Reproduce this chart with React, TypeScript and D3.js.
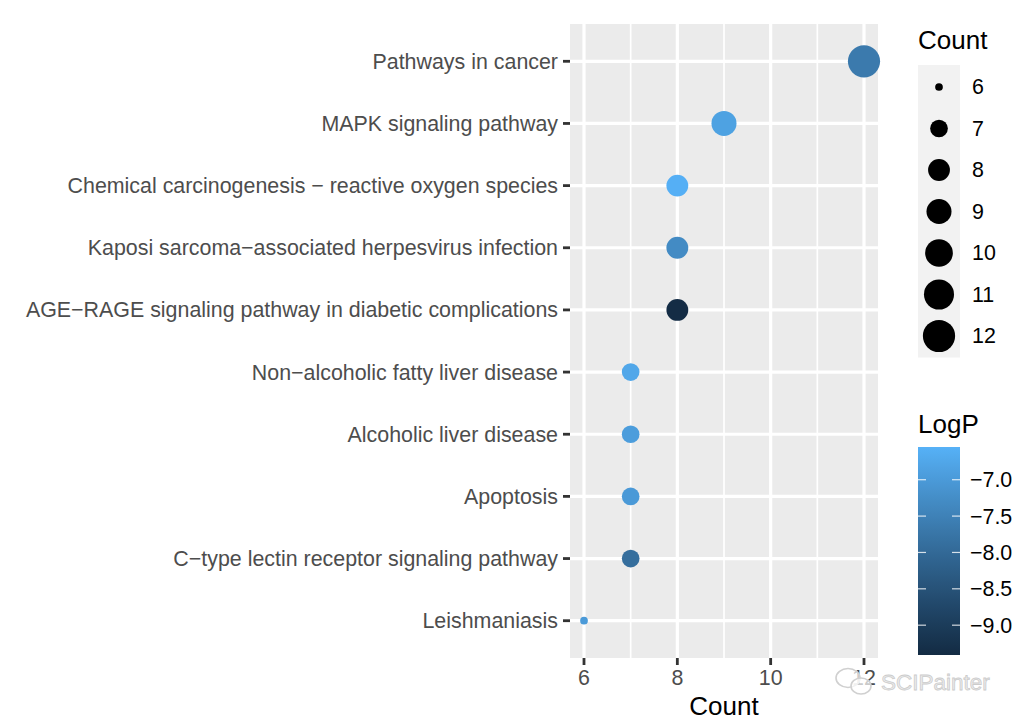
import React from "react";
import * as d3 from "d3";

const pathways = [
  "Pathways in cancer",
  "MAPK signaling pathway",
  "Chemical carcinogenesis \u2212 reactive oxygen species",
  "Kaposi sarcoma\u2212associated herpesvirus infection",
  "AGE\u2212RAGE signaling pathway in diabetic complications",
  "Non\u2212alcoholic fatty liver disease",
  "Alcoholic liver disease",
  "Apoptosis",
  "C\u2212type lectin receptor signaling pathway",
  "Leishmaniasis",
];
const counts = [12, 9, 8, 8, 8, 7, 7, 7, 7, 6];
const logP = [-7.65, -6.85, -6.58, -7.3, -9.38, -6.75, -6.95, -7.02, -7.9, -7.0];
const xTicks = [6, 8, 10, 12];
const xMinor = [7, 9, 11];
const sizeLegend = [6, 7, 8, 9, 10, 11, 12];
const colorTicks = [-7.0, -7.5, -8.0, -8.5, -9.0];

const W = 1027;
const H = 723;
const panel = { left: 570, right: 878, top: 24, bottom: 658 };
const FONT = "'Liberation Sans', Arial, sans-serif";
const FS = 21.4;

export default function App() {
  const x = d3.scaleLinear().domain([5.7, 12.3]).range([panel.left, panel.right]);
  const y = d3
    .scalePoint<string>()
    .domain(pathways)
    .range([panel.top, panel.bottom])
    .padding(0.6);
  const sizeScale = (c: number) => 1 + 5 * Math.sqrt((c - 6) / 6);
  const r = (c: number) => 2.45 * sizeScale(c) + 1.4;
  const cDomain: [number, number] = [-9.41, -6.55];
  const color = d3
    .scaleLinear<string>()
    .domain(cDomain)
    .range(["#132B43", "#56B1F7"])
    .interpolate(d3.interpolateLab);

  const cb = { x: 918, w: 42, top: 447, bottom: 655 };
  const cy = d3.scaleLinear().domain(cDomain).range([cb.bottom, cb.top]);
  const stops = d3.range(0, 21).map((i) => i / 20);

  const sl = { x: 918, w: 42, top: 65, step: 41.5 };

  return (
    <div style={{ position: "absolute", left: 0, top: 0 }}>
      <svg width={W} height={H} style={{ display: "block", background: "#fff" }}>
        <defs>
          <linearGradient id="cbar" x1="0" y1="1" x2="0" y2="0">
            {stops.map((t) => (
              <stop
                key={t}
                offset={`${t * 100}%`}
                stopColor={color(cDomain[0] + t * (cDomain[1] - cDomain[0]))}
              />
            ))}
          </linearGradient>
        </defs>
        <rect
          x={panel.left}
          y={panel.top}
          width={panel.right - panel.left}
          height={panel.bottom - panel.top}
          fill="#EBEBEB"
        />
        {xMinor.map((v) => (
          <line
            key={"mn" + v}
            x1={x(v)}
            x2={x(v)}
            y1={panel.top}
            y2={panel.bottom}
            stroke="#fff"
            strokeWidth={1.7}
          />
        ))}
        {xTicks.map((v) => (
          <line
            key={"mj" + v}
            x1={x(v)}
            x2={x(v)}
            y1={panel.top}
            y2={panel.bottom}
            stroke="#fff"
            strokeWidth={3.2}
          />
        ))}
        {pathways.map((p) => (
          <line
            key={"hg" + p}
            x1={panel.left}
            x2={panel.right}
            y1={y(p)}
            y2={y(p)}
            stroke="#fff"
            strokeWidth={3.2}
          />
        ))}
        {pathways.map((p, i) => (
          <circle
            key={"pt" + p}
            cx={x(counts[i])}
            cy={y(p)}
            r={r(counts[i])}
            fill={color(logP[i])}
          />
        ))}
        {pathways.map((p) => (
          <g key={"yl" + p}>
            <line
              x1={panel.left - 7}
              x2={panel.left}
              y1={y(p)}
              y2={y(p)}
              stroke="#333"
              strokeWidth={2.8}
            />
            <text
              x={panel.left - 12}
              y={y(p)}
              dy="0.35em"
              textAnchor="end"
              fontFamily={FONT}
              fontSize={FS}
              fill="#4D4D4D"
            >
              {p}
            </text>
          </g>
        ))}
        {xTicks.map((v) => (
          <g key={"xt" + v}>
            <line
              x1={x(v)}
              x2={x(v)}
              y1={panel.bottom}
              y2={panel.bottom + 7}
              stroke="#333"
              strokeWidth={2.8}
            />
            <text
              x={x(v)}
              y={685}
              textAnchor="middle"
              fontFamily={FONT}
              fontSize={FS}
              fill="#4D4D4D"
            >
              {v}
            </text>
          </g>
        ))}
        <text
          x={(panel.left + panel.right) / 2}
          y={715}
          textAnchor="middle"
          fontFamily={FONT}
          fontSize={26}
          fill="#000"
        >
          Count
        </text>
        <text x={sl.x} y={49} fontFamily={FONT} fontSize={26} fill="#000">
          Count
        </text>
        <rect
          x={sl.x}
          y={sl.top}
          width={sl.w}
          height={sl.step * sizeLegend.length + 2}
          fill="#F2F2F2"
        />
        {sizeLegend.map((c, i) => {
          const cyv = sl.top + 22 + i * sl.step;
          return (
            <g key={"sl" + c}>
              <circle cx={sl.x + sl.w / 2} cy={cyv} r={r(c)} fill="#000" />
              <text
                x={972}
                y={cyv}
                dy="0.35em"
                fontFamily={FONT}
                fontSize={FS}
                fill="#000"
              >
                {c}
              </text>
            </g>
          );
        })}
        <text x={cb.x} y={433} fontFamily={FONT} fontSize={26} fill="#000">
          LogP
        </text>
        <rect
          x={cb.x}
          y={cb.top}
          width={cb.w}
          height={cb.bottom - cb.top}
          fill="url(#cbar)"
        />
        {colorTicks.map((v) => (
          <g key={"ct" + v}>
            <line
              x1={cb.x}
              x2={cb.x + 8}
              y1={cy(v)}
              y2={cy(v)}
              stroke="#fff"
              strokeOpacity={0.8}
              strokeWidth={1.2}
            />
            <line
              x1={cb.x + cb.w - 8}
              x2={cb.x + cb.w}
              y1={cy(v)}
              y2={cy(v)}
              stroke="#fff"
              strokeOpacity={0.8}
              strokeWidth={1.2}
            />
            <text
              x={970}
              y={cy(v)}
              dy="0.35em"
              fontFamily={FONT}
              fontSize={FS}
              fill="#000"
            >
              {"\u2212" + Math.abs(v).toFixed(1)}
            </text>
          </g>
        ))}
        {/* watermark */}
        <g>
          <g fill="#fff" fillOpacity={0.7} stroke="#d0d0d0" strokeWidth={1.6}>
            <ellipse cx={848} cy={678} rx={12} ry={9.5} />
            <ellipse cx={861} cy={686} rx={10} ry={8} />
          </g>
          <text
            x={881}
            y={690}
            fontFamily={FONT}
            fontSize={22.5}
            fill="#ececec"
            stroke="#cccccc"
            strokeWidth={0.8}
          >
            SCIPainter
          </text>
        </g>
      </svg>
    </div>
  );
}
